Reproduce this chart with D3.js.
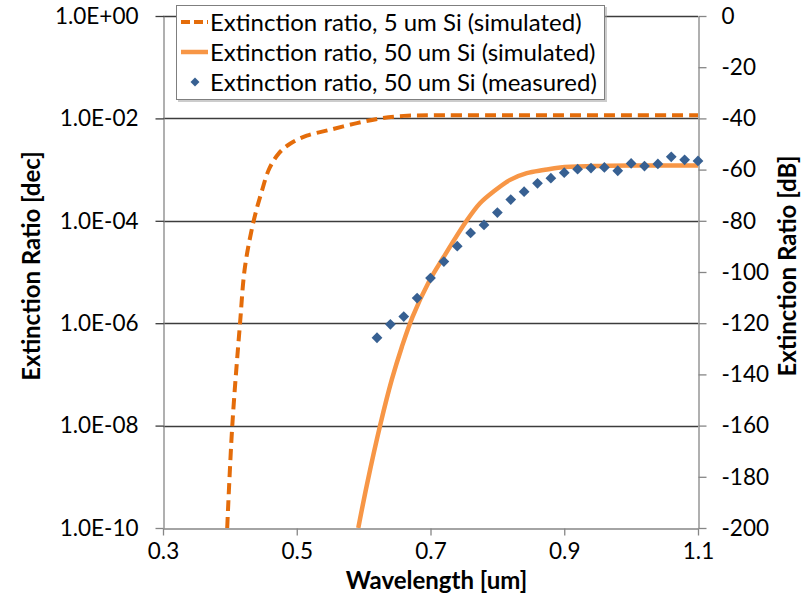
<!DOCTYPE html>
<html><head><meta charset="utf-8">
<script src="https://cdn.jsdelivr.net/npm/d3@7"></script>
<style>
html,body{margin:0;padding:0;background:#fff;}
svg{display:block;font-family:Lato,"Open Sans",sans-serif;}
</style></head>
<body>
<svg id="chart" width="807" height="599"></svg>
<script>
// ---- data ----
const wl5 = [0.396,0.4036,0.4152,0.4226,0.436,0.447,0.459,0.4735,0.490,0.515,0.550,0.590,0.625,0.660,0.700,0.800,0.900,1.000,1.100];
const er5 = [1e-10,1e-8,1e-6,1.26e-5,1.05e-4,3.5e-4,1.05e-3,2.1e-3,3.2e-3,4.6e-3,6.0e-3,8.1e-3,1.0e-2,1.12e-2,1.15e-2,1.15e-2,1.15e-2,1.15e-2,1.15e-2];
const wl50 = [0.592,0.605,0.625,0.642,0.657,0.673,0.698,0.719,0.754,0.774,0.794,0.819,0.844,0.869,0.894,0.943,1.000,1.100];
const er50 = [1e-10,7.1e-10,1.05e-8,7.8e-8,3.4e-7,1.32e-6,6.6e-6,1.9e-5,1e-4,2.2e-4,3.7e-4,6.3e-4,8.5e-4,9.8e-4,1.1e-3,1.17e-3,1.2e-3,1.2e-3];
const wlMeas = [0.62,0.64,0.66,0.68,0.70,0.72,0.74,0.76,0.78,0.80,0.82,0.84,0.86,0.88,0.90,0.92,0.94,0.96,0.98,1.00,1.02,1.04,1.06,1.08,1.10];
const erMeas = [5.2e-7,9.5e-7,1.35e-6,3.1e-6,7.6e-6,1.6e-5,3.2e-5,5.8e-5,8.3e-5,1.45e-4,2.6e-4,3.7e-4,5.4e-4,6.8e-4,8.7e-4,1.02e-3,1.07e-3,1.1e-3,9.5e-4,1.32e-3,1.17e-3,1.29e-3,1.78e-3,1.55e-3,1.48e-3];
const xTicks = [0.3,0.5,0.7,0.9,1.1];
const xTickLabels = ["0.3","0.5","0.7","0.9","1.1"];
const leftTicks = [1,1e-2,1e-4,1e-6,1e-8,1e-10];
const leftTickLabels = ["1.0E+00","1.0E-02","1.0E-04","1.0E-06","1.0E-08","1.0E-10"];
const rightTicks = [0,-20,-40,-60,-80,-100,-120,-140,-160,-180,-200];
const legendLabels = ["Extinction ratio, 5 um Si (simulated)","Extinction ratio, 50 um Si (simulated)","Extinction ratio, 50 um Si (measured)"];

// ---- layout ----
const L=163, R=698, T=16, B=528;
const svg = d3.select("#chart");
const x = d3.scaleLinear().domain([0.3,1.1]).range([L,R]);
const y = d3.scaleLog().domain([1e-10,1]).range([B,T]);
const yDb = d3.scaleLinear().domain([-200,0]).range([B,T]);

const cDash="#E46C0A", cSolid="#F79646", cMeas="#376092", cAxis="#868686", cGrid="#3c3c3c";

svg.append("defs").append("clipPath").attr("id","clip")
  .append("rect").attr("x",L).attr("y",T).attr("width",R-L).attr("height",B-T);

// gridlines
svg.append("g").selectAll("line").data(leftTicks.filter(d=>d>1e-10)).join("line")
  .attr("x1",L).attr("x2",R).attr("y1",d=>Math.round(y(d))+0.5).attr("y2",d=>Math.round(y(d))+0.5)
  .attr("stroke",cGrid).attr("stroke-width",1.3);

// axes
const fs=22.5;
const gx = svg.append("g").attr("transform",`translate(0,${B+0.5})`)
  .call(d3.axisBottom(x).tickValues(xTicks).tickFormat((d,i)=>xTickLabels[i]).tickSize(7).tickSizeOuter(0));
gx.selectAll("text").attr("font-size",fs).attr("fill","#000").attr("dy",null).attr("y",30.5).style("font-family","Lato");
const gl = svg.append("g").attr("transform",`translate(${L+0.5},0)`)
  .call(d3.axisLeft(y).tickValues(leftTicks).tickFormat((d,i)=>leftTickLabels[i]).tickSize(8).tickSizeOuter(0));
gl.selectAll("text").attr("font-size",fs).attr("fill","#000").attr("x",-25).style("font-family","Lato");
const gr = svg.append("g").attr("transform",`translate(${R+0.5},0)`)
  .call(d3.axisRight(yDb).tickValues(rightTicks).tickFormat(d=>d).tickSize(8).tickSizeOuter(0));
gr.selectAll("text").attr("font-size",fs).attr("fill","#000").attr("x",23).style("font-family","Lato");
[gx,gl,gr].forEach(g=>{g.selectAll("path,line").attr("stroke",cAxis).attr("stroke-width",1.3);});
gl.selectAll(".tick line").filter(d=>d>1e-10).attr("stroke",cGrid);

// series
const plot = svg.append("g").attr("clip-path","url(#clip)");
const line = d3.line().x(d=>x(d[0])).y(d=>y(d[1])).curve(d3.curveCatmullRom.alpha(0.5));
plot.append("path").datum(wl50.map((w,i)=>[w,er50[i]])).attr("d",line)
  .attr("fill","none").attr("stroke",cSolid).attr("stroke-width",4.5);
plot.append("path").datum(wl5.map((w,i)=>[w,er5[i]])).attr("d",line)
  .attr("fill","none").attr("stroke",cDash).attr("stroke-width",4).attr("stroke-dasharray","11,6");
const diamond = d3.symbol().type(d3.symbolSquare).size(58);
svg.append("g").selectAll("path").data(wlMeas.map((w,i)=>[w,erMeas[i]])).join("path")
  .attr("d",diamond).attr("transform",d=>`translate(${x(d[0])},${y(d[1])}) rotate(45)`)
  .attr("fill",cMeas);

// axis titles
svg.append("text").attr("x",(L+R)/2+6).attr("y",589).attr("text-anchor","middle")
  .attr("font-size",24).attr("font-weight","bold").text("Wavelength [um]");
svg.append("text").attr("transform",`translate(40,${(T+B)/2-6}) rotate(-90)`).attr("text-anchor","middle")
  .attr("font-size",24).attr("font-weight","bold").text("Extinction Ratio [dec]");
svg.append("text").attr("transform",`translate(796,${(T+B)/2-6}) rotate(-90)`).attr("text-anchor","middle")
  .attr("font-size",24).attr("font-weight","bold").text("Extinction Ratio [dB]");

// legend
const lg = svg.append("g");
lg.append("rect").attr("x",178).attr("y",7).attr("width",429).attr("height",95).attr("fill","#999").attr("opacity",0.5);
lg.append("rect").attr("x",176.5).attr("y",5.5).attr("width",428).attr("height",94).attr("fill","#fff").attr("stroke","#7f7f7f").attr("stroke-width",1);
const rowsY=[22,52,82];
lg.append("line").attr("x1",181).attr("x2",208).attr("y1",rowsY[0]).attr("y2",rowsY[0])
  .attr("stroke",cDash).attr("stroke-width",4).attr("stroke-dasharray","9,4");
lg.append("line").attr("x1",181).attr("x2",208).attr("y1",rowsY[1]).attr("y2",rowsY[1])
  .attr("stroke",cSolid).attr("stroke-width",4.5);
lg.append("path").attr("d",d3.symbol().type(d3.symbolSquare).size(40)).attr("transform",`translate(195,${rowsY[2]}) rotate(45)`).attr("fill",cMeas);
lg.selectAll("text.l").data(legendLabels).join("text").attr("class","l")
  .attr("x",210).attr("y",(d,i)=>rowsY[i]).attr("dy","0.36em").attr("font-size",24).text(d=>d);
</script>
</body></html>
